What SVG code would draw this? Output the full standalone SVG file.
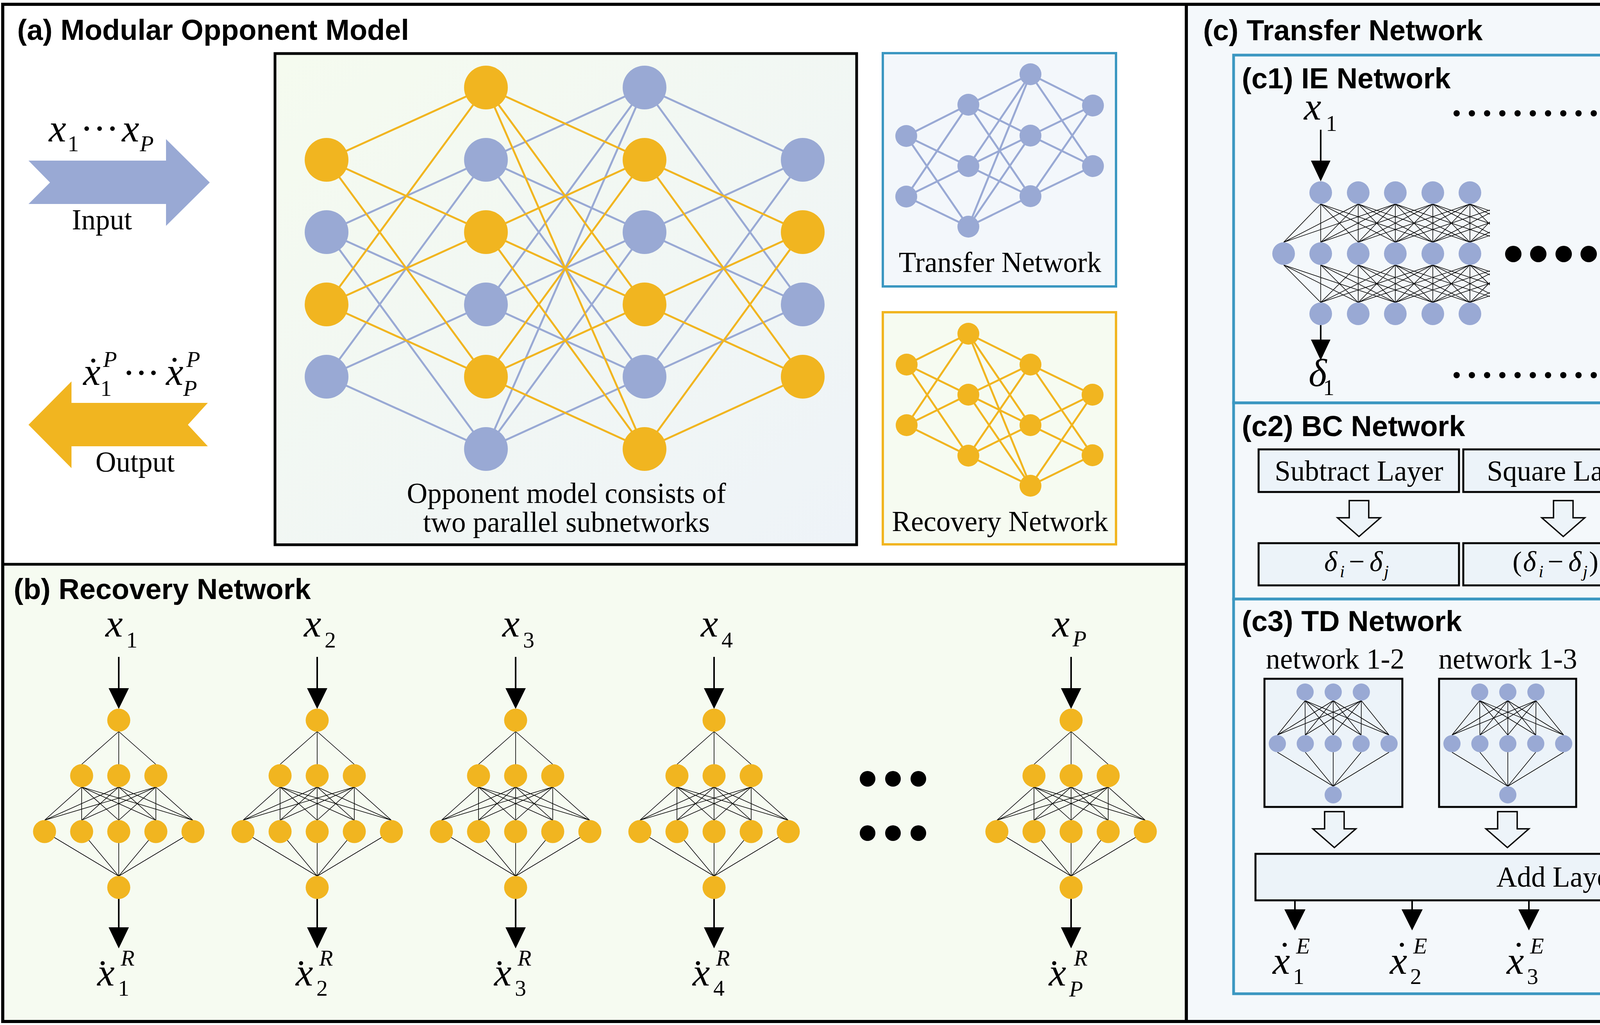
<svg xmlns="http://www.w3.org/2000/svg" xmlns:xlink="http://www.w3.org/1999/xlink" width="4976" height="2623" viewBox="0 0 4976 2623">
<defs>
<style>
.t{font-family:"Liberation Sans",Arial,sans-serif;font-weight:bold;font-size:74px;fill:#000}
.s{font-family:"Liberation Serif","Times New Roman",serif;font-size:73px;fill:#000}
.sc{font-family:"Liberation Serif","Times New Roman",serif;font-size:73px;fill:#000;text-anchor:middle}
.m{font-family:"Liberation Serif","Times New Roman",serif;font-style:italic;font-size:100px;fill:#000}
.ss{font-style:normal;font-size:58px}
.si{font-style:italic;font-size:58px}
.dt{font-style:normal;font-size:100px}
.dtb{font-style:normal;font-size:100px;text-anchor:middle}
.d{font-family:"Liberation Serif","Times New Roman",serif;font-style:italic;font-size:72px;fill:#000}
.du{font-style:normal;font-size:72px}
.dd{font-style:italic;font-size:44px}
.dp{font-style:normal;font-size:44px}
.ob{fill:#f1b520}
.bl{fill:#99a9d4}
.eo{stroke:#f1b520;stroke-width:5;fill:none}
.eb{stroke:#99a9d4;stroke-width:5;fill:none}
.ek{stroke:#000;stroke-width:1.6;fill:none}
.ak{stroke:#000;stroke-width:4;fill:none}
.hol{fill:#edf4f9;stroke:#000;stroke-width:3.5}
.bx{fill:#ecf3f9;stroke:#000;stroke-width:5}
.cb{fill:#f4f8fb;stroke:#3b97c1;stroke-width:7}
</style>
<linearGradient id="gA" x1="0" y1="0" x2="1" y2="1"><stop offset="0" stop-color="#f5fbef"/><stop offset="1" stop-color="#eef3f8"/></linearGradient>
<path id="hollow" d="M-25 0H25V44H55L0 92L-55 44H-25Z"/>
<g id="recE">
<path class="ek" d="M0 1872L-95 1956M0 1872L0 1956M0 1872L95 1956M-95 2014L-190 2099M-95 2014L-95 2099M-95 2014L0 2099M-95 2014L95 2099M-95 2014L190 2099M0 2014L-190 2099M0 2014L-95 2099M0 2014L0 2099M0 2014L95 2099M0 2014L190 2099M95 2014L-190 2099M95 2014L-95 2099M95 2014L0 2099M95 2014L95 2099M95 2014L190 2099M-190 2128L0 2242M-95 2128L0 2242M0 2128L0 2242M95 2128L0 2242M190 2128L0 2242"/>
<path class="ak" d="M0 1681V1765M0 2300V2376"/>
<path d="M-26 1761H26L0 1814ZM-26 2373H26L0 2427Z" fill="#000"/>
</g>
<g id="recN" class="ob">
<circle cx="0" cy="1843" r="29.5"/>
<circle cx="-95" cy="1985" r="29.5"/><circle cx="0" cy="1985" r="29.5"/><circle cx="95" cy="1985" r="29.5"/>
<circle cx="-190" cy="2128" r="29.5"/><circle cx="-95" cy="2128" r="29.5"/><circle cx="0" cy="2128" r="29.5"/><circle cx="95" cy="2128" r="29.5"/><circle cx="190" cy="2128" r="29.5"/>
<circle cx="0" cy="2271" r="29.5"/>
</g>
<g id="tdE">
<path class="ek" d="M-72 1793L-143 1881M-72 1793L-71.5 1881M-72 1793L0 1881M-72 1793L71.5 1881M-72 1793L143 1881M0 1793L-143 1881M0 1793L-71.5 1881M0 1793L0 1881M0 1793L71.5 1881M0 1793L143 1881M72 1793L-143 1881M72 1793L-71.5 1881M72 1793L0 1881M72 1793L71.5 1881M72 1793L143 1881M-143 1925L0 2012M-71.5 1925L0 2012M0 1925L0 2012M71.5 1925L0 2012M143 1925L0 2012"/>
</g>
<g id="tdN" class="bl">
<circle cx="-72" cy="1771" r="22"/><circle cx="0" cy="1771" r="22"/><circle cx="72" cy="1771" r="22"/>
<circle cx="-143" cy="1903" r="22"/><circle cx="-71.5" cy="1903" r="22"/><circle cx="0" cy="1903" r="22"/><circle cx="71.5" cy="1903" r="22"/><circle cx="143" cy="1903" r="22"/>
<circle cx="0" cy="2034" r="22"/>
</g>
<g id="dots15">
<circle cx="3729" cy="0" r="8"/><circle cx="3768" cy="0" r="8"/><circle cx="3807" cy="0" r="8"/><circle cx="3846" cy="0" r="8"/><circle cx="3885" cy="0" r="8"/><circle cx="3924" cy="0" r="8"/><circle cx="3963" cy="0" r="8"/><circle cx="4002" cy="0" r="8"/><circle cx="4041" cy="0" r="8"/><circle cx="4080" cy="0" r="8"/><circle cx="4119" cy="0" r="8"/><circle cx="4158" cy="0" r="8"/><circle cx="4197" cy="0" r="8"/><circle cx="4236" cy="0" r="8"/><circle cx="4275" cy="0" r="8"/>
</g>
<clipPath id="clipL"><rect x="3200" y="500" width="614" height="300"/></clipPath>
<clipPath id="clipR"><rect x="4191" y="500" width="620" height="300"/></clipPath>
</defs>

<g id="panels">
<rect x="7" y="11" width="3030" height="1433" fill="#ffffff"/>
<rect x="7" y="1444" width="3030" height="1170" fill="#f6fbf1"/>
<rect x="3037" y="11" width="1929" height="2603" fill="#f4f8fb"/>
<rect x="704" y="137" width="1489" height="1257" fill="url(#gA)" stroke="#000" stroke-width="7"/>
<rect x="2260" y="136" width="597" height="597" fill="#f3f7fb" stroke="#3b97c1" stroke-width="6"/>
<rect x="2260" y="799" width="597" height="594" fill="#f6fbf1" stroke="#f1b520" stroke-width="6"/>
<rect class="cb" x="3158" y="141" width="1690" height="890"/>
<rect class="cb" x="3158" y="1031" width="1690" height="502"/>
<rect class="cb" x="3158" y="1533" width="1690" height="1010"/>
<line x1="7" y1="1444" x2="3037" y2="1444" stroke="#000" stroke-width="7"/>
<line x1="3037" y1="11" x2="3037" y2="2614" stroke="#000" stroke-width="8"/>
</g>

<g id="bc-boxes">
<rect class="bx" x="3222" y="1150" width="513" height="109"/>
<rect class="bx" x="3746" y="1150" width="513" height="109"/>
<rect class="bx" x="4270" y="1150" width="512" height="109"/>
<rect class="bx" x="3222" y="1390" width="513" height="108"/>
<rect class="bx" x="3746" y="1390" width="513" height="108"/>
<rect class="bx" x="4270" y="1390" width="512" height="108"/>
</g>
<g id="td-boxes">
<rect class="bx" x="3237" y="1737" width="353" height="328"/>
<rect class="bx" x="3684" y="1737" width="351" height="328"/>
<rect class="bx" x="4410" y="1737" width="350" height="328"/>
<rect class="bx" x="3214" y="2185" width="1578" height="119"/>
</g>

<g id="connectors">
<path class="eb" d="M836 594L1244 409M836 594L1244 779M836 594L1244 1149M836 964L1244 409M836 964L1244 779M836 964L1244 1149M1244 409L1650 224M1244 409L1650 594M1244 409L1650 964M1244 779L1650 224M1244 779L1650 594M1244 779L1650 964M1244 1149L1650 224M1244 1149L1650 594M1244 1149L1650 964M1650 224L2055 409M1650 224L2055 779M1650 594L2055 409M1650 594L2055 779M1650 964L2055 409M1650 964L2055 779"/>
<path class="eo" d="M836 409L1244 224M836 409L1244 594M836 409L1244 964M836 779L1244 224M836 779L1244 594M836 779L1244 964M1244 224L1650 409M1244 224L1650 779M1244 224L1650 1149M1244 594L1650 409M1244 594L1650 779M1244 594L1650 1149M1244 964L1650 409M1244 964L1650 779M1244 964L1650 1149M1650 409L2055 594M1650 409L2055 964M1650 779L2055 594M1650 779L2055 964M1650 1149L2055 594M1650 1149L2055 964"/>
<path class="eb" d="M2320 348L2479 268M2320 348L2479 425M2320 348L2479 580M2320 503L2479 268M2320 503L2479 425M2320 503L2479 580M2479 268L2638 190M2479 268L2638 347M2479 268L2638 502M2479 425L2638 190M2479 425L2638 347M2479 425L2638 502M2479 580L2638 190M2479 580L2638 347M2479 580L2638 502M2638 190L2798 270M2638 190L2798 425M2638 347L2798 270M2638 347L2798 425M2638 502L2798 270M2638 502L2798 425"/>
<path class="eo" d="M2321 933L2479 854M2321 933L2479 1010M2321 933L2479 1166M2321 1088L2479 854M2321 1088L2479 1010M2321 1088L2479 1166M2479 854L2638 933M2479 854L2638 1088M2479 854L2638 1243M2479 1010L2638 933M2479 1010L2638 1088M2479 1010L2638 1243M2479 1166L2638 933M2479 1166L2638 1088M2479 1166L2638 1243M2638 933L2797 1010M2638 933L2797 1165M2638 1088L2797 1010M2638 1088L2797 1165M2638 1243L2797 1010M2638 1243L2797 1165"/>
<polygon points="73,411 425,411 425,356 537,467 425,578 425,522 73,522 128,467" fill="#99a9d4"/>
<polygon points="73,1087 183,976 183,1031 532,1031 481,1087 532,1142 183,1142 183,1198" fill="#f1b520"/>
<use href="#recE" x="304"/>
<use href="#recE" x="812"/>
<use href="#recE" x="1320"/>
<use href="#recE" x="1828"/>
<use href="#recE" x="2742"/>
<g clip-path="url(#clipL)">
<path class="ek" d="M3381 522L3286 620M3381 522L3381 620M3381 522L3477 620M3381 522L3572 620M3381 522L3668 620M3477 522L3286 620M3477 522L3381 620M3477 522L3477 620M3477 522L3572 620M3477 522L3668 620M3477 522L3763 620M3572 522L3286 620M3572 522L3381 620M3572 522L3477 620M3572 522L3572 620M3572 522L3668 620M3572 522L3763 620M3572 522L3859 620M3668 522L3381 620M3668 522L3477 620M3668 522L3572 620M3668 522L3668 620M3668 522L3763 620M3668 522L3859 620M3668 522L3954 620M3763 522L3477 620M3763 522L3572 620M3763 522L3668 620M3763 522L3763 620M3763 522L3859 620M3763 522L3954 620M3763 522L4050 620M3859 522L3572 620M3859 522L3668 620M3859 522L3763 620M3954 522L3668 620M3954 522L3763 620M4050 522L3763 620"/>
<path class="ek" d="M3286 678L3381 774M3381 678L3381 774M3477 678L3381 774M3572 678L3381 774M3668 678L3381 774M3286 678L3477 774M3381 678L3477 774M3477 678L3477 774M3572 678L3477 774M3668 678L3477 774M3763 678L3477 774M3286 678L3572 774M3381 678L3572 774M3477 678L3572 774M3572 678L3572 774M3668 678L3572 774M3763 678L3572 774M3859 678L3572 774M3381 678L3668 774M3477 678L3668 774M3572 678L3668 774M3668 678L3668 774M3763 678L3668 774M3859 678L3668 774M3954 678L3668 774M3477 678L3763 774M3572 678L3763 774M3668 678L3763 774M3763 678L3763 774M3859 678L3763 774M3954 678L3763 774M4050 678L3763 774M3572 678L3859 774M3668 678L3859 774M3763 678L3859 774M3668 678L3954 774M3763 678L3954 774M3763 678L4050 774"/>
</g>
<g clip-path="url(#clipR)">
<path class="ek" d="M4625 522L4338 620M4625 522L4433 620M4625 522L4529 620M4625 522L4625 620M4625 522L4721 620M4529 522L4242 620M4529 522L4338 620M4529 522L4433 620M4529 522L4529 620M4529 522L4625 620M4529 522L4721 620M4433 522L4146 620M4433 522L4242 620M4433 522L4338 620M4433 522L4433 620M4433 522L4529 620M4433 522L4625 620M4433 522L4721 620M4338 522L4050 620M4338 522L4146 620M4338 522L4242 620M4338 522L4338 620M4338 522L4433 620M4338 522L4529 620M4338 522L4625 620M4242 522L3955 620M4242 522L4050 620M4242 522L4146 620M4242 522L4242 620M4242 522L4338 620M4242 522L4433 620M4242 522L4529 620M4146 522L4242 620M4146 522L4338 620M4146 522L4433 620M4050 522L4242 620M4050 522L4338 620M3955 522L4242 620"/>
<path class="ek" d="M4338 678L4625 774M4433 678L4625 774M4529 678L4625 774M4625 678L4625 774M4721 678L4625 774M4242 678L4529 774M4338 678L4529 774M4433 678L4529 774M4529 678L4529 774M4625 678L4529 774M4721 678L4529 774M4146 678L4433 774M4242 678L4433 774M4338 678L4433 774M4433 678L4433 774M4529 678L4433 774M4625 678L4433 774M4721 678L4433 774M4050 678L4338 774M4146 678L4338 774M4242 678L4338 774M4338 678L4338 774M4433 678L4338 774M4529 678L4338 774M4625 678L4338 774M3955 678L4242 774M4050 678L4242 774M4146 678L4242 774M4242 678L4242 774M4338 678L4242 774M4433 678L4242 774M4529 678L4242 774M4242 678L4146 774M4338 678L4146 774M4433 678L4146 774M4242 678L4050 774M4338 678L4050 774M4242 678L3955 774"/>
</g>
<path class="ak" d="M3381 332V415M4625 332V415M3381 832V872M4625 832V872"/>
<path d="M3356 411H3406L3381 464ZM4600 411H4650L4625 464ZM3356 869H3406L3381 922ZM4600 869H4650L4625 922Z" fill="#000"/>
<use href="#hollow" x="3479" y="1281" class="hol"/>
<use href="#hollow" x="4002" y="1281" class="hol"/>
<use href="#hollow" x="4526" y="1281" class="hol"/>
<use href="#tdE" x="3413"/>
<use href="#tdE" x="3860"/>
<use href="#tdE" x="4585"/>
<use href="#hollow" x="3416" y="2077" class="hol"/>
<use href="#hollow" x="3859" y="2077" class="hol"/>
<use href="#hollow" x="4586" y="2077" class="hol"/>
<path class="ak" d="M3315 2305V2330M3615 2305V2330M3914 2305V2330M4214 2305V2330M4702 2305V2330"/>
<path d="M3288 2327H3342L3315 2381ZM3588 2327H3642L3615 2381ZM3887 2327H3941L3914 2381ZM4187 2327H4241L4214 2381ZM4675 2327H4729L4702 2381Z" fill="#000"/>
</g>

<g id="panel-a-title"><text class="t" x="44" y="102">(a) Modular Opponent Model</text></g>
<g id="input-label">
<text class="m"><tspan x="125" y="362">x</tspan><tspan class="ss" x="173" y="387">1</tspan><tspan class="dtb" x="222 255 288" y="362">···</tspan><tspan x="312" y="362">x</tspan><tspan class="si" x="358" y="387">P</tspan></text>
<text class="s" x="261" y="587" font-size="70" text-anchor="middle">Input</text>
</g>
<g id="output-label">
<text class="m"><tspan x="213" y="985">x</tspan><tspan class="dt" x="222" y="983">˙</tspan><tspan class="si" x="264" y="939">P</tspan><tspan class="ss" x="257" y="1013">1</tspan><tspan class="dtb" x="330 362 393" y="987">···</tspan><tspan x="425" y="985">x</tspan><tspan class="dt" x="430" y="981">˙</tspan><tspan class="si" x="477" y="939">P</tspan><tspan class="si" x="469" y="1013">P</tspan></text>
<text class="s" x="346" y="1207" font-size="70" text-anchor="middle">Output</text>
</g>
<g id="opponent-model-net">
<circle class="ob" cx="836" cy="409" r="56"/><circle class="bl" cx="836" cy="594" r="56"/><circle class="ob" cx="836" cy="779" r="56"/><circle class="bl" cx="836" cy="964" r="56"/>
<circle class="ob" cx="1244" cy="224" r="56"/><circle class="bl" cx="1244" cy="409" r="56"/><circle class="ob" cx="1244" cy="594" r="56"/><circle class="bl" cx="1244" cy="779" r="56"/><circle class="ob" cx="1244" cy="964" r="56"/><circle class="bl" cx="1244" cy="1149" r="56"/>
<circle class="bl" cx="1650" cy="224" r="56"/><circle class="ob" cx="1650" cy="409" r="56"/><circle class="bl" cx="1650" cy="594" r="56"/><circle class="ob" cx="1650" cy="779" r="56"/><circle class="bl" cx="1650" cy="964" r="56"/><circle class="ob" cx="1650" cy="1149" r="56"/>
<circle class="bl" cx="2055" cy="409" r="56"/><circle class="ob" cx="2055" cy="594" r="56"/><circle class="bl" cx="2055" cy="779" r="56"/><circle class="ob" cx="2055" cy="964" r="56"/>
<text class="sc" x="1450" y="1287" font-size="74">Opponent model consists of</text>
<text class="sc" x="1450" y="1361" font-size="74">two parallel subnetworks</text>
</g>
<g id="transfer-icon" class="bl">
<circle cx="2320" cy="348" r="28"/><circle cx="2320" cy="503" r="28"/>
<circle cx="2479" cy="268" r="28"/><circle cx="2479" cy="425" r="28"/><circle cx="2479" cy="580" r="28"/>
<circle cx="2638" cy="190" r="28"/><circle cx="2638" cy="347" r="28"/><circle cx="2638" cy="502" r="28"/>
<circle cx="2798" cy="270" r="28"/><circle cx="2798" cy="425" r="28"/>
<text class="sc" x="2560" y="696" fill="#000">Transfer Network</text>
</g>
<g id="recovery-icon" class="ob">
<circle cx="2321" cy="933" r="28"/><circle cx="2321" cy="1088" r="28"/>
<circle cx="2479" cy="854" r="28"/><circle cx="2479" cy="1010" r="28"/><circle cx="2479" cy="1166" r="28"/>
<circle cx="2638" cy="933" r="28"/><circle cx="2638" cy="1088" r="28"/><circle cx="2638" cy="1243" r="28"/>
<circle cx="2797" cy="1010" r="28"/><circle cx="2797" cy="1165" r="28"/>
<text class="sc" x="2560" y="1359" fill="#000">Recovery Network</text>
</g>

<g id="panel-b-title"><text class="t" x="35" y="1533">(b) Recovery Network</text></g>
<g id="rec-net-1" transform="translate(304 0)">
<use href="#recN"/>
<text class="m"><tspan x="-34" y="1629">x</tspan><tspan class="ss" x="19" y="1657">1</tspan></text>
<text class="m"><tspan x="-55" y="2522">x</tspan><tspan class="dt" x="-58" y="2525">˙</tspan><tspan class="si" x="5" y="2471">R</tspan><tspan class="ss" x="-2" y="2548">1</tspan></text>
</g>
<g id="rec-net-2" transform="translate(812 0)">
<use href="#recN"/>
<text class="m"><tspan x="-34" y="1629">x</tspan><tspan class="ss" x="19" y="1657">2</tspan></text>
<text class="m"><tspan x="-55" y="2522">x</tspan><tspan class="dt" x="-58" y="2525">˙</tspan><tspan class="si" x="5" y="2471">R</tspan><tspan class="ss" x="-2" y="2548">2</tspan></text>
</g>
<g id="rec-net-3" transform="translate(1320 0)">
<use href="#recN"/>
<text class="m"><tspan x="-34" y="1629">x</tspan><tspan class="ss" x="19" y="1657">3</tspan></text>
<text class="m"><tspan x="-55" y="2522">x</tspan><tspan class="dt" x="-58" y="2525">˙</tspan><tspan class="si" x="5" y="2471">R</tspan><tspan class="ss" x="-2" y="2548">3</tspan></text>
</g>
<g id="rec-net-4" transform="translate(1828 0)">
<use href="#recN"/>
<text class="m"><tspan x="-34" y="1629">x</tspan><tspan class="ss" x="19" y="1657">4</tspan></text>
<text class="m"><tspan x="-55" y="2522">x</tspan><tspan class="dt" x="-58" y="2525">˙</tspan><tspan class="si" x="5" y="2471">R</tspan><tspan class="ss" x="-2" y="2548">4</tspan></text>
</g>
<g id="rec-net-P" transform="translate(2742 0)">
<use href="#recN"/>
<text class="m"><tspan x="-48" y="1629">x</tspan><tspan class="si" x="4" y="1654">P</tspan></text>
<text class="m"><tspan x="-57" y="2522">x</tspan><tspan class="dt" x="-60" y="2525">˙</tspan><tspan class="si" x="7" y="2471">R</tspan><tspan class="si" x="-5" y="2550">P</tspan></text>
</g>
<g id="rec-ellipsis">
<circle cx="2221" cy="1993" r="20"/><circle cx="2286" cy="1993" r="20"/><circle cx="2351" cy="1993" r="20"/>
<circle cx="2221" cy="2132" r="20"/><circle cx="2286" cy="2132" r="20"/><circle cx="2351" cy="2132" r="20"/>
</g>

<g id="panel-c-title"><text class="t" x="3080" y="103">(c) Transfer Network</text></g>
<g id="c1-ie-network">
<text class="t" x="3179" y="226">(c1) IE Network</text>
<text class="m"><tspan x="3338" y="306">x</tspan><tspan class="ss" x="3394" y="335">1</tspan></text>
<text class="m"><tspan x="4581" y="306">x</tspan><tspan class="si" x="4631" y="335">P</tspan></text>
<use href="#dots15" y="290"/>
<use href="#dots15" y="960"/>
<g class="bl">
<circle cx="3381" cy="493" r="29"/><circle cx="3477" cy="493" r="29"/><circle cx="3572" cy="493" r="29"/><circle cx="3668" cy="493" r="29"/><circle cx="3763" cy="493" r="29"/>
<circle cx="3286" cy="649" r="29"/><circle cx="3381" cy="649" r="29"/><circle cx="3477" cy="649" r="29"/><circle cx="3572" cy="649" r="29"/><circle cx="3668" cy="649" r="29"/><circle cx="3763" cy="649" r="29"/>
<circle cx="3381" cy="803" r="29"/><circle cx="3477" cy="803" r="29"/><circle cx="3572" cy="803" r="29"/><circle cx="3668" cy="803" r="29"/><circle cx="3763" cy="803" r="29"/>
<circle cx="4242" cy="493" r="29"/><circle cx="4338" cy="493" r="29"/><circle cx="4433" cy="493" r="29"/><circle cx="4529" cy="493" r="29"/><circle cx="4625" cy="493" r="29"/>
<circle cx="4242" cy="649" r="29"/><circle cx="4338" cy="649" r="29"/><circle cx="4433" cy="649" r="29"/><circle cx="4529" cy="649" r="29"/><circle cx="4625" cy="649" r="29"/><circle cx="4721" cy="649" r="29"/>
<circle cx="4242" cy="803" r="29"/><circle cx="4338" cy="803" r="29"/><circle cx="4433" cy="803" r="29"/><circle cx="4529" cy="803" r="29"/><circle cx="4625" cy="803" r="29"/>
</g>
<circle cx="3874" cy="650" r="21"/><circle cx="3938" cy="650" r="21"/><circle cx="4003" cy="650" r="21"/><circle cx="4067" cy="650" r="21"/><circle cx="4132" cy="650" r="21"/>
<text class="m" font-size="82"><tspan x="3350" y="988">δ</tspan><tspan class="ss" x="3387" y="1011" font-size="52">1</tspan></text>
<text class="m" font-size="82"><tspan x="4587" y="988">δ</tspan><tspan class="si" x="4625" y="1011" font-size="52">P</tspan></text>
</g>

<g id="c2-bc-network">
<text class="t" x="3179" y="1116">(c2) BC Network</text>
<text class="sc" x="3479" y="1230">Subtract Layer</text>
<text class="sc" x="4002" y="1230">Square Layer</text>
<text class="sc" x="4525" y="1230">Cube Layer</text>
<text class="d"><tspan x="3390" y="1461">δ</tspan><tspan class="dd" x="3430" y="1477">i</tspan><tspan class="du" x="3453" y="1461">−</tspan><tspan x="3506" y="1461">δ</tspan><tspan class="dd" x="3543" y="1477">j</tspan></text>
<text class="d"><tspan class="du" x="3872" y="1461">(</tspan><tspan x="3899" y="1461">δ</tspan><tspan class="dd" x="3939" y="1477">i</tspan><tspan class="du" x="3962" y="1461">−</tspan><tspan x="4015" y="1461">δ</tspan><tspan class="dd" x="4052" y="1477">j</tspan><tspan class="du" x="4068" y="1461">)</tspan><tspan class="dp" x="4100" y="1417">2</tspan></text>
<text class="d"><tspan class="du" x="4396" y="1461">(</tspan><tspan x="4423" y="1461">δ</tspan><tspan class="dd" x="4463" y="1477">i</tspan><tspan class="du" x="4486" y="1461">−</tspan><tspan x="4539" y="1461">δ</tspan><tspan class="dd" x="4576" y="1477">j</tspan><tspan class="du" x="4592" y="1461">)</tspan><tspan class="dp" x="4624" y="1417">3</tspan></text>
</g>

<g id="c3-td-network">
<text class="t" x="3179" y="1615">(c3) TD Network</text>
<text class="sc" x="3418" y="1711">network 1-2</text>
<text class="sc" x="3860" y="1711">network 1-3</text>
<text class="sc" x="4590" y="1641">network</text>
<text class="sc" x="4590" y="1704">(<tspan font-style="italic">P</tspan>-1)-<tspan font-style="italic">P</tspan></text>
<use href="#tdN" x="3413"/>
<use href="#tdN" x="3860"/>
<use href="#tdN" x="4585"/>
<circle cx="4157" cy="1900" r="20"/><circle cx="4223" cy="1900" r="20"/><circle cx="4288" cy="1900" r="20"/>
<text class="sc" x="4002" y="2269">Add Layers</text>
</g>
<g id="c3-outputs">
<text class="m"><tspan x="3258" y="2492">x</tspan><tspan class="dt" x="3272" y="2478">˙</tspan><tspan class="si" x="3318" y="2440">E</tspan><tspan class="ss" x="3310" y="2518">1</tspan></text>
<text class="m"><tspan x="3558" y="2492">x</tspan><tspan class="dt" x="3572" y="2478">˙</tspan><tspan class="si" x="3618" y="2440">E</tspan><tspan class="ss" x="3610" y="2518">2</tspan></text>
<text class="m"><tspan x="3857" y="2492">x</tspan><tspan class="dt" x="3871" y="2478">˙</tspan><tspan class="si" x="3917" y="2440">E</tspan><tspan class="ss" x="3909" y="2518">3</tspan></text>
<text class="m"><tspan x="4157" y="2492">x</tspan><tspan class="dt" x="4171" y="2478">˙</tspan><tspan class="si" x="4217" y="2440">E</tspan><tspan class="ss" x="4209" y="2518">4</tspan></text>
<text class="m"><tspan x="4645" y="2492">x</tspan><tspan class="dt" x="4659" y="2478">˙</tspan><tspan class="si" x="4705" y="2440">E</tspan><tspan class="si" x="4697" y="2518">P</tspan></text>
<circle cx="4327" cy="2450" r="8"/><circle cx="4364" cy="2450" r="8"/><circle cx="4402" cy="2450" r="8"/><circle cx="4439" cy="2450" r="8"/><circle cx="4476" cy="2450" r="8"/><circle cx="4514" cy="2450" r="8"/><circle cx="4551" cy="2450" r="8"/><circle cx="4588" cy="2450" r="8"/>
</g>

<g id="outer-frame"><rect x="7" y="11" width="4959" height="2603" fill="none" stroke="#000" stroke-width="8"/></g>
</svg>
